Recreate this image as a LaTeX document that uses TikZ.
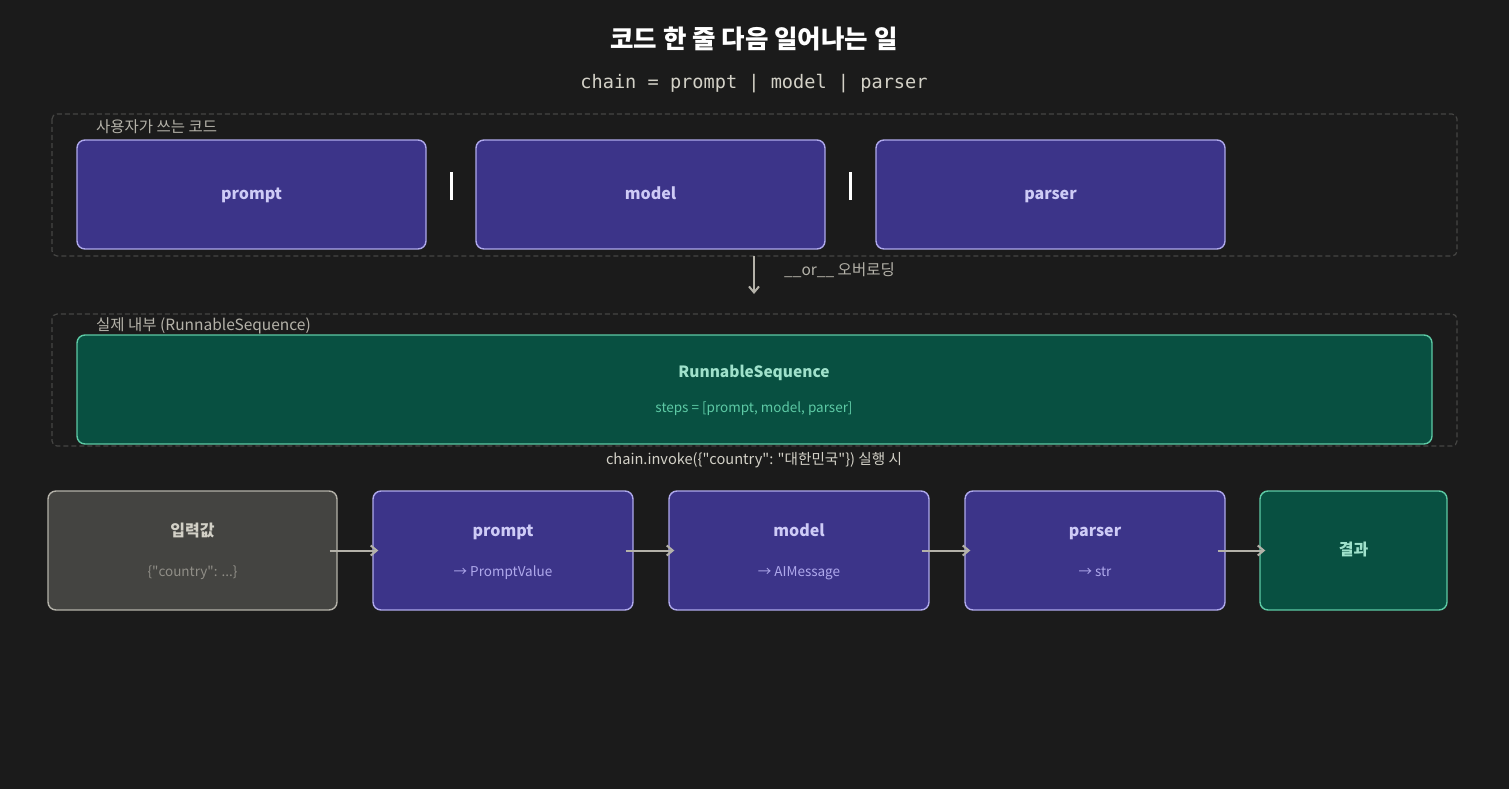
\documentclass[tikz,border=0pt]{standalone}
\usepackage{fontspec}
\setmainfont{Noto Sans CJK KR}
\newfontfamily\codefont{DejaVu Sans Mono}
\usetikzlibrary{positioning,calc,arrows.meta}

\definecolor{bgcol}{HTML}{1B1B1B}
\definecolor{framecol}{HTML}{454543}
\definecolor{purplefill}{HTML}{3C3489}
\definecolor{purpleline}{HTML}{AFA9EC}
\definecolor{purpletext}{HTML}{CECBF6}
\definecolor{tealfill}{HTML}{085041}
\definecolor{tealline}{HTML}{5DCAA5}
\definecolor{tealtext}{HTML}{9FE1CB}
\definecolor{grayfill}{HTML}{444441}
\definecolor{grayline}{HTML}{B4B2A9}
\definecolor{graytext}{HTML}{D3D1C7}
\definecolor{labelcol}{HTML}{B4B2A9}

\begin{document}
\begin{tikzpicture}[
    x=1pt, y=-1pt,
    frame/.style={draw=framecol, dash pattern=on 5pt off 3pt, rounded corners=5pt, line width=1.2pt},
    purplebox/.style={draw=purpleline, fill=purplefill, rounded corners=8pt, line width=1.4pt, text=purpletext, align=center},
    tealbox/.style={draw=tealline, fill=tealfill, rounded corners=8pt, line width=1.4pt, text=tealtext, align=center},
    graybox/.style={draw=grayline, fill=grayfill, rounded corners=8pt, line width=1.4pt, text=graytext, align=center},
    grouplabel/.style={font=\fontsize{15.5}{18}\selectfont, text=labelcol, anchor=west, inner sep=0pt},
    boxtitle/.style={font=\fontsize{16}{19}\selectfont\bfseries, inner sep=0pt, anchor=base},
    boxsub/.style={font=\fontsize{13.5}{16}\selectfont, inner sep=0pt, anchor=base},
    flow/.style={draw=labelcol, line width=2pt, -{Straight Barb[length=6pt, width=10pt, line width=2pt]}},
    pipe/.style={white, line width=3pt}
]

    % background and page size
    \fill[bgcol] (0,0) rectangle (1509,789);
    \useasboundingbox (0,0) rectangle (1509,789);

    % Title lines
    \node[font=\fontsize{25.5}{30}\selectfont\bfseries, text=white] (title) at (754,39) {코드 한 줄 다음 일어나는 일};
    \node[font=\fontsize{18.6}{22}\selectfont\codefont, text=graytext] (code) at (754,84) {chain = prompt | model | parser};

    % User code group
    \draw[frame] (52,114) rectangle (1457,256);
    \node[grouplabel] (userlbl) at (96,127) {사용자가 쓰는 코드};
    \node[purplebox, minimum width=349pt, minimum height=109pt] (uprompt) at (251.5,194.5) {};
    \node[boxtitle, text=purpletext] at (251.5,199) {prompt};
    \node[purplebox, minimum width=349pt, minimum height=109pt] (umodel) at (650.5,194.5) {};
    \node[boxtitle, text=purpletext] at (650.5,199) {model};
    \node[purplebox, minimum width=349pt, minimum height=109pt] (uparser) at (1050.5,194.5) {};
    \node[boxtitle, text=purpletext] at (1050.5,199) {parser};
    \draw[pipe] ($(uprompt.east)!0.5!(umodel.west)+(0,-22.5)$) -- ++(0,28);
    \draw[pipe] ($(umodel.east)!0.5!(uparser.west)+(0,-22.5)$) -- ++(0,28);

    % Overloading arrow
    \coordinate (ortop) at (754,256);
    \coordinate (orbot) at (754,294);
    \draw[flow] (ortop) -- (orbot);
    \node[grouplabel] (orlbl) at (784,270) {\_\_or\_\_ 오버로딩};

    % Internal group
    \draw[frame] (52,314) rectangle (1457,446);
    \node[grouplabel] (intlbl) at (96,326) {실제 내부 (RunnableSequence)};
    \node[tealbox, minimum width=1355pt, minimum height=109pt] (seq) at (754.5,389.5) {};
    \node[boxtitle, font=\fontsize{15.5}{19}\selectfont\bfseries, text=tealtext] at (754,377) {RunnableSequence};
    \node[boxsub, text=tealline] at (754,412) {steps = [prompt, model, parser]};

    \node[font=\fontsize{14.6}{17}\selectfont, text=graytext] (invoke) at (754,460) {chain.invoke(\{\textquotedbl country\textquotedbl: \textquotedbl 대한민국\textquotedbl\}) 실행 시};

    % Execution row
    \node[graybox, minimum width=289pt, minimum height=119pt] (input) at (192.5,550.5) {};
    \node[boxtitle, text=graytext] at (192.5,536) {입력값};
    \node[boxsub, text=labelcol!80!black] at (192.5,576) {\{\textquotedbl country\textquotedbl: ...\}};

    \node[purplebox, minimum width=260pt, minimum height=119pt] (prompt) at (503,550.5) {};
    \node[boxtitle, text=purpletext] at (503,536) {prompt};
    \node[boxsub, text=purpleline] at (503,576) {→ PromptValue};

    \node[purplebox, minimum width=260pt, minimum height=119pt] (model) at (799,550.5) {};
    \node[boxtitle, text=purpletext] at (799,536) {model};
    \node[boxsub, text=purpleline] at (799,576) {→ AIMessage};

    \node[purplebox, minimum width=260pt, minimum height=119pt] (parser) at (1095,550.5) {};
    \node[boxtitle, text=purpletext] at (1095,536) {parser};
    \node[boxsub, text=purpleline] at (1095,576) {→ str};

    \node[tealbox, minimum width=187pt, minimum height=119pt] (result) at (1353.5,550.5) {};
    \node[boxtitle, text=tealtext] at (1353.5,555) {결과};

    \draw[flow, shorten <=-8pt, shorten >=-6pt] (input.east) -- (prompt.west);
    \draw[flow, shorten <=-8pt, shorten >=-6pt] (prompt.east) -- (model.west);
    \draw[flow, shorten <=-8pt, shorten >=-6pt] (model.east) -- (parser.west);
    \draw[flow, shorten <=-8pt, shorten >=-6pt] (parser.east) -- (result.west);

\end{tikzpicture}
\end{document}
